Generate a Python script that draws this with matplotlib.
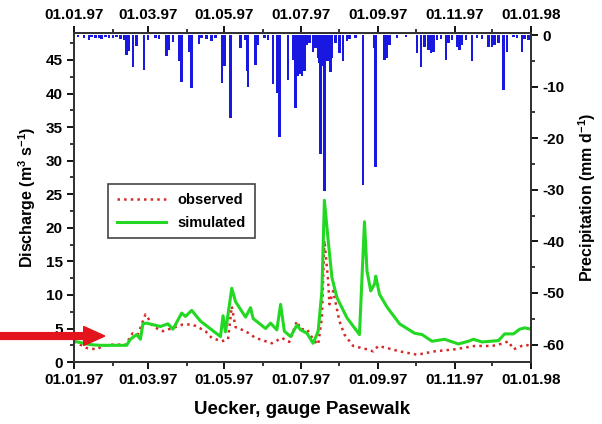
import numpy as np
import matplotlib
matplotlib.use("Agg")
from matplotlib import pyplot as plt
import matplotlib.dates as mdates
from matplotlib.patches import FancyArrow

plt.rcParams['font.family'] = ['Liberation Sans', 'DejaVu Sans']
plt.rcParams['font.weight'] = 'bold'
plt.rcParams['mathtext.fontset'] = 'custom'
plt.rcParams['mathtext.bf'] = 'Liberation Sans:bold'
plt.rcParams['mathtext.rm'] = 'Liberation Sans:bold'
plt.rcParams['mathtext.default'] = 'bf'
plt.rcParams['axes.unicode_minus'] = False

start = np.datetime64('1997-01-01')

# daily precipitation (mm/d), day offset from 01.01.97
precip_day = [3, 8, 12, 14, 17, 20, 22, 25, 28, 31, 34, 37, 40, 42, 43, 44, 47, 50, 56, 59,
              65, 68, 74, 76, 79, 84, 86, 92, 94, 100, 102, 106, 110, 113, 118, 120, 125,
              133, 137, 138, 139, 145, 147, 152, 155, 159, 162, 164, 171, 175, 177, 179,
              180, 182, 184, 186, 188, 191, 193, 195, 196, 197, 198, 200, 201, 202, 203,
              204, 205, 206, 209, 212, 215, 218, 220, 225, 231, 240, 241, 248, 250, 252,
              258, 265, 274, 277, 280, 283, 285, 287, 290, 293, 297, 299, 302, 306, 308,
              310, 313, 318, 322, 326, 331, 334, 336, 339, 343, 346, 351, 354, 358, 360, 363]
precip_mm = [0.3, 0.5, 1.0, 0.4, 0.6, 0.5, 0.8, 0.4, 0.6, 0.5, 0.3, 0.7, 0.9, 3.9, 2.5, 3.0, 6.2, 2.2, 6.8, 1.0,
             0.5, 0.8, 4.0, 2.8, 1.4, 5.0, 9.0, 3.3, 10.2, 1.8, 0.6, 0.7, 1.2, 0.5, 9.3, 6.0, 16.1,
             2.5, 1.0, 6.9, 10.0, 5.7, 2.0, 0.6, 1.0, 9.5, 11.3, 19.7, 8.7, 4.9, 14.1, 8.0,
             7.5, 8.0, 7.0, 2.0, 1.5, 3.2, 2.5, 4.5, 5.5, 23.0, 6.0, 30.3, 5.0, 4.0, 5.0,
             3.5, 7.1, 4.5, 1.5, 3.5, 5.1, 1.2, 0.8, 0.5, 29.1, 2.5, 25.5, 4.9, 4.4, 2.0,
             0.5, 0.4, 3.5, 6.1, 2.3, 2.9, 3.5, 3.3, 1.0, 0.8, 4.9, 1.6, 1.0, 2.3, 2.9,
             2.0, 1.0, 5.1, 0.6, 0.8, 2.3, 2.3, 1.9, 1.6, 10.7, 3.3, 0.4, 0.5, 3.2, 0.7, 1.0]

# simulated discharge (m3/s)
sim_day = [0, 13, 21, 42, 45, 50, 53, 55, 58, 69, 75, 79, 86, 89, 94, 101, 117, 119, 121,
           126, 129, 137, 141, 143, 153, 157, 162, 165, 168, 173, 178, 181, 186, 191, 195,
           198, 200, 203, 206, 210, 218, 228, 232, 234, 237, 240, 241, 244, 250, 260, 272,
           278, 286, 296, 307, 315, 319, 326, 339, 344, 351, 356, 360, 365]
sim_q = [3.1, 2.6, 2.5, 2.5, 3.4, 4.1, 3.4, 5.7, 5.8, 5.3, 5.7, 4.9, 7.3, 6.8, 7.7, 6.1, 3.8, 6.9, 4.5,
         11.0, 9.0, 6.7, 8.1, 6.5, 5.0, 5.8, 4.8, 8.6, 4.6, 3.8, 5.5, 4.8, 4.3, 2.8, 4.6,
         10.6, 24.1, 18.1, 12.6, 9.6, 6.6, 4.1, 20.9, 13.6, 10.6, 11.6, 12.8, 10.1, 8.2, 5.7, 4.3,
         4.1, 3.1, 3.4, 2.7, 3.1, 3.4, 3.0, 3.2, 4.2, 4.2, 4.9, 5.1, 4.9]

# observed discharge (m3/s)
obs_day = [0, 10, 18, 23, 31, 42, 45, 47, 51, 57, 59, 63, 71, 79, 87, 93, 97, 105, 110, 118,
           123, 126, 129, 137, 145, 158, 166, 172, 178, 181, 186, 191, 195, 198, 200, 203,
           204, 207, 212, 216, 223, 234, 239, 243, 250, 260, 274, 288, 304, 320, 334, 343,
           347, 351, 360, 365]
obs_q = [3.1, 2.1, 1.9, 2.4, 2.6, 2.6, 3.9, 4.3, 4.1, 7.1, 6.6, 5.3, 4.6, 5.1, 5.6, 5.6, 5.4, 4.6, 3.6, 3.1,
         3.4, 8.3, 5.2, 4.6, 3.6, 2.8, 3.6, 3.0, 6.1, 4.9, 4.9, 3.4, 2.6, 6.6, 18.1, 12.1,
         8.6, 10.6, 6.1, 4.1, 2.4, 1.9, 1.6, 2.4, 2.1, 1.6, 1.1, 1.6, 1.9, 2.4, 2.4, 2.8,
         3.1, 1.9, 2.6, 2.4]

precip_dates = start + np.array(precip_day).astype('timedelta64[D]')
sim_dates = start + np.array(sim_day).astype('timedelta64[D]')
obs_dates = start + np.array(obs_day).astype('timedelta64[D]')

fig = plt.figure(figsize=(6.02, 4.24), dpi=100)
ax = fig.add_axes([0.123, 0.146, 0.759, 0.776])
ax2 = ax.twinx()

ax.plot(obs_dates, obs_q, color='#d42a2a', lw=1.8, ls=':', label='observed')
ax.plot(sim_dates, sim_q, color='#22d822', lw=2.2, label='simulated')

ax2.bar(precip_dates, -np.array(precip_mm), width=2.0, color='#1818e0', edgecolor='none')

ax.set_xlim(np.datetime64('1997-01-01'), np.datetime64('1998-01-01'))
ax.set_ylim(0, 49)
ax2.set_ylim(-63.4, 0.4)

ax.xaxis.set_major_locator(mdates.MonthLocator(bymonth=[1, 3, 5, 7, 9, 11]))
ax.xaxis.set_minor_locator(mdates.MonthLocator())
ax.xaxis.set_major_formatter(mdates.DateFormatter('%d.%m.%y'))
ax.set_yticks(np.arange(0, 50, 5))
ax.set_yticks(np.arange(0, 49, 2.5), minor=True)
ax2.set_yticks(np.arange(-60, 1, 10))
ax2.set_yticks(np.arange(-60, 1, 5), minor=True)

ax.tick_params(axis='x', which='both', top=True, labeltop=True, direction='out')
ax.tick_params(which='major', length=5, width=1.3, labelsize=11, pad=3)
ax.tick_params(which='minor', length=3, width=1.1)
ax2.tick_params(which='major', length=5, width=1.3, labelsize=11)
ax2.tick_params(which='minor', length=3, width=1.1)
for a in (ax, ax2):
    for s in a.spines.values():
        s.set_linewidth(1.4)
        s.set_color('#333333')

ax.set_ylabel('Discharge (m$^{3}$ s$^{-1}$)', fontsize=11.5, fontweight='bold', labelpad=6)
ax2.set_ylabel('Precipitation (mm d$^{-1}$)', fontsize=11.5, fontweight='bold', labelpad=8)
ax.set_xlabel('Uecker, gauge Pasewalk', fontsize=13.5, fontweight='bold', labelpad=10)

leg = ax.legend(loc='upper left', bbox_to_anchor=(0.058, 0.563), fontsize=10.5,
                handlelength=3.4, fancybox=False, framealpha=1, edgecolor='#444444',
                borderpad=0.6, labelspacing=0.6)
leg.get_frame().set_linewidth(1.2)

arrow = FancyArrow(0.0, 0.2075, 0.174, 0.0, width=0.016, head_width=0.045,
                   head_length=0.035, length_includes_head=True, color='#e3141b',
                   transform=fig.transFigure)
fig.patches.append(arrow)

fig.savefig('out.png', dpi=100)
